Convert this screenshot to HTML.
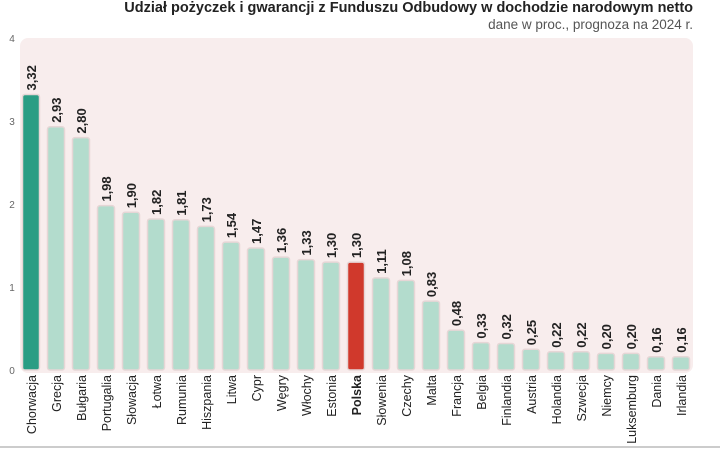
<!DOCTYPE html>
<html><head><meta charset="utf-8"><style>
body{margin:0;background:#fff;width:720px;height:449px;overflow:hidden;font-family:"Liberation Sans",sans-serif}
</style></head><body>
<svg id="chart" width="720" height="449" xmlns="http://www.w3.org/2000/svg">
<text x="693" y="12" text-anchor="end" font-size="14.5" font-weight="bold" fill="#222">Udział pożyczek i gwarancji z Funduszu Odbudowy w dochodzie narodowym netto</text>
<text x="693" y="29" text-anchor="end" font-size="13.5" fill="#555">dane w proc., prognoza na 2024 r.</text>
<rect x="20" y="38" width="673" height="335" rx="8" fill="#f8eded"/>
<line x1="0" y1="447" x2="720" y2="447" stroke="#bbb" stroke-width="1.5"/>
<g id="g"></g>
</svg>
<script>
const categories=["Chorwacja","Grecja","Bułgaria","Portugalia","Słowacja","Łotwa","Rumunia","Hiszpania","Litwa","Cypr","Węgry","Włochy","Estonia","Polska","Słowenia","Czechy","Malta","Francja","Belgia","Finlandia","Austria","Holandia","Szwecja","Niemcy","Luksemburg","Dania","Irlandia"];
const values=[3.32,2.93,2.80,1.98,1.90,1.82,1.81,1.73,1.54,1.47,1.36,1.33,1.30,1.30,1.11,1.08,0.83,0.48,0.33,0.32,0.25,0.22,0.22,0.20,0.20,0.16,0.16];
const yTicks=[0,1,2,3,4];
const NS="http://www.w3.org/2000/svg";
const g=document.getElementById('g');
const y=v=>370-v*83;
const x=i=>31+i*25;
function mk(t,a){const e=document.createElementNS(NS,t);for(const k in a)e.setAttribute(k,a[k]);g.appendChild(e);return e;}
yTicks.forEach(t=>{
 const e=mk('text',{x:12,y:y(t)+4,'text-anchor':'middle','font-size':10,fill:'#666'});
 e.textContent=t;
 
 
});
categories.forEach((c,i)=>{
 const v=values[i];
 const col=i==0?'#2a9d84':(c=='Polska'?'#d0392c':'#b3dccd');
 const r=mk('rect',{x:x(i)-8.5,y:y(v),width:17,height:370-y(v),rx:2.5,fill:col,stroke:'#e6d6d6','stroke-width':1.5});
 
 
 const lt=mk('text',{transform:`translate(${x(i)+5},${y(v)-4}) rotate(-90)`,'font-size':13,'font-weight':'bold',fill:'#222'});
 lt.textContent=v.toFixed(2).replace('.',',');
 
 
 const ct=mk('text',{transform:`translate(${x(i)+5},375) rotate(-90)`,'text-anchor':'end','font-size':12.5,'font-weight':c=='Polska'?'bold':'normal',fill:'#222'});
 ct.textContent=c;
 
 
});
</script>
</body></html>
